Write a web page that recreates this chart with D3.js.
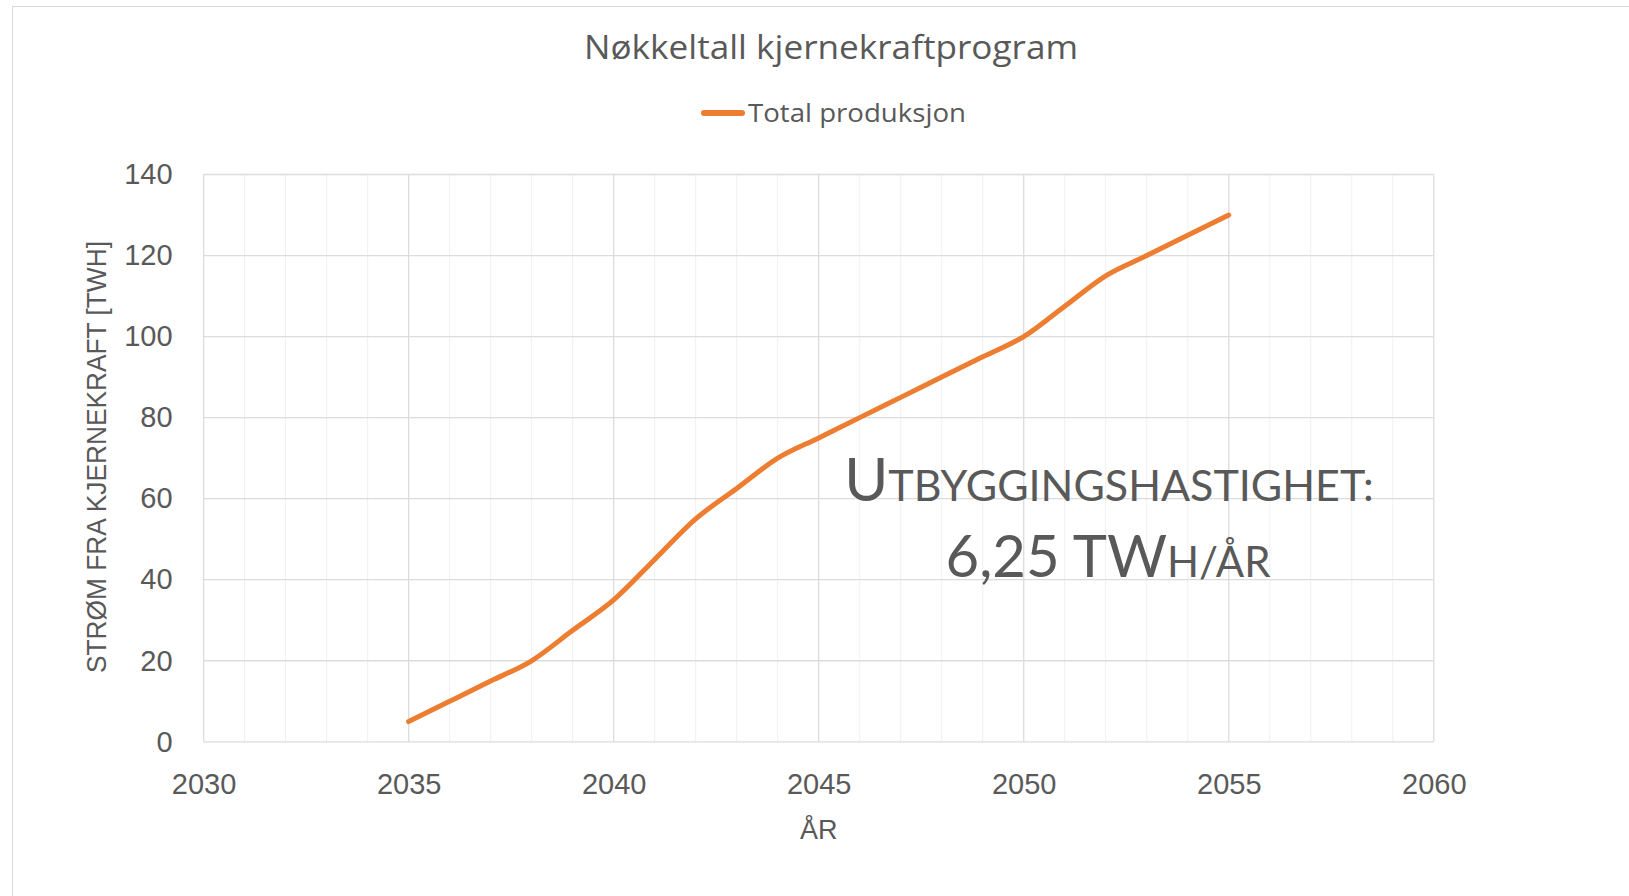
<!DOCTYPE html>
<html>
<head>
<meta charset="utf-8">
<script src="https://cdn.jsdelivr.net/npm/d3@7"></script>
<style>
  body { margin: 0; background: #fff; }
  svg { display: block; }
</style>
</head>
<body>
<div id="chart"></div>
<script>
// données
const years = [2035, 2036, 2037, 2038, 2039, 2040, 2041, 2042, 2043, 2044, 2045,
               2046, 2047, 2048, 2049, 2050, 2051, 2052, 2053, 2054, 2055];
const production = [5, 10, 15, 20, 27.5, 35, 45, 55, 62.5, 70, 75,
                    80, 85, 90, 95, 100, 107.5, 115, 120, 125, 130];
const xTicks = [2030, 2035, 2040, 2045, 2050, 2055, 2060];
const yTicks = [0, 20, 40, 60, 80, 100, 120, 140];

const titre = "Nøkkeltall kjernekraftprogram";
const serieNom = "Total produksjon";
const titreX = "ÅR";
const titreY = "STRØM FRA KJERNEKRAFT [TWH]";

const W = 1629, H = 896;
const margin = { top: 174.5, right: 1629 - 1433.8, bottom: 896 - 741.8, left: 203.6 };
const grey = "#595959";
const orange = "#ED7D31";

const svg = d3.select("#chart").append("svg")
    .attr("width", W)
    .attr("height", H);

// cadre extérieur
svg.append("rect")
    .attr("x", 12.5).attr("y", 6.5)
    .attr("width", W).attr("height", H)
    .attr("fill", "none")
    .attr("stroke", "#d9d9d9");

const x = d3.scaleLinear()
    .domain([2030, 2060])
    .range([margin.left, W - margin.right]);
const y = d3.scaleLinear()
    .domain([0, 140])
    .range([H - margin.bottom, margin.top]);

// grille secondaire (chaque année)
svg.append("g")
    .selectAll("line")
    .data(d3.range(2030, 2061).filter(d => d % 5 !== 0))
    .join("line")
    .attr("x1", d => x(d)).attr("x2", d => x(d))
    .attr("y1", y(0)).attr("y2", y(140))
    .attr("stroke", "#f0f0f0")
    .attr("stroke-width", 1);

// grille principale
svg.append("g")
    .selectAll("line")
    .data(xTicks)
    .join("line")
    .attr("x1", d => x(d)).attr("x2", d => x(d))
    .attr("y1", y(0)).attr("y2", y(140))
    .attr("stroke", "#dcdcdc")
    .attr("stroke-width", 1.3);

svg.append("g")
    .selectAll("line")
    .data(yTicks)
    .join("line")
    .attr("x1", x(2030)).attr("x2", x(2060))
    .attr("y1", d => y(d)).attr("y2", d => y(d))
    .attr("stroke", "#dcdcdc")
    .attr("stroke-width", 1.3);

// axes
const axeX = svg.append("g")
    .attr("transform", "translate(0," + y(0) + ")")
    .call(d3.axisBottom(x).tickValues(xTicks).tickFormat(d3.format("d")).tickSize(0).tickPadding(32));
const axeY = svg.append("g")
    .attr("transform", "translate(" + x(2030) + ",0)")
    .call(d3.axisLeft(y).tickValues(yTicks).tickSize(0).tickPadding(31));

[axeX, axeY].forEach(a => {
    a.select(".domain").remove();
    a.selectAll("text")
        .attr("fill", grey)
        .style("font-family", "'Liberation Sans', Arial, sans-serif")
        .style("font-size", "29px");
});

// courbe lissée
const line = d3.line()
    .x((d, i) => x(years[i]))
    .y(d => y(d))
    .curve(d3.curveCardinal.tension(0));

svg.append("path")
    .datum(production)
    .attr("d", line)
    .attr("fill", "none")
    .attr("stroke", orange)
    .attr("stroke-width", 5)
    .attr("stroke-linecap", "round")
    .attr("stroke-linejoin", "round");

// titre
svg.append("text")
    .attr("x", 831).attr("y", 59)
    .attr("text-anchor", "middle")
    .attr("fill", grey)
    .attr("textLength", 494)
    .attr("lengthAdjust", "spacingAndGlyphs")
    .style("font-family", "'Open Sans', sans-serif")
    .style("font-size", "32px")
    .text(titre);

// légende
svg.append("line")
    .attr("x1", 704).attr("x2", 742)
    .attr("y1", 113).attr("y2", 113)
    .attr("stroke", orange)
    .attr("stroke-width", 6)
    .attr("stroke-linecap", "round");
svg.append("text")
    .attr("x", 748).attr("y", 122)
    .attr("fill", grey)
    .attr("textLength", 218)
    .attr("lengthAdjust", "spacingAndGlyphs")
    .style("font-family", "'Open Sans', sans-serif")
    .style("font-size", "25px")
    .text(serieNom);

// titres des axes
svg.append("text")
    .attr("x", x(2045)).attr("y", 839)
    .attr("text-anchor", "middle")
    .attr("fill", grey)
    .style("font-family", "'Liberation Sans', Arial, sans-serif")
    .style("font-size", "27px")
    .text(titreX);

svg.append("text")
    .attr("transform", "translate(106,457) rotate(-90)")
    .attr("text-anchor", "middle")
    .attr("fill", grey)
    .attr("textLength", 432)
    .attr("lengthAdjust", "spacingAndGlyphs")
    .style("font-family", "'Liberation Sans', Arial, sans-serif")
    .style("font-size", "27px")
    .text(titreY);

// annotation en petites capitales
const note = svg.append("g")
    .attr("fill", grey)
    .style("font-family", "Lato, 'Open Sans', sans-serif");

const l1 = note.append("text")
    .attr("x", 1109).attr("y", 501)
    .attr("text-anchor", "middle");
l1.append("tspan").style("font-size", "60px").text("U");
l1.append("tspan").style("font-size", "43px").text("TBYGGINGSHASTIGHET:");

const l2 = note.append("text")
    .attr("x", 1108).attr("y", 577)
    .attr("text-anchor", "middle");
l2.append("tspan").style("font-size", "58px").text("6,25 TW");
l2.append("tspan").style("font-size", "42px").text("H/ÅR");
</script>
</body>
</html>
